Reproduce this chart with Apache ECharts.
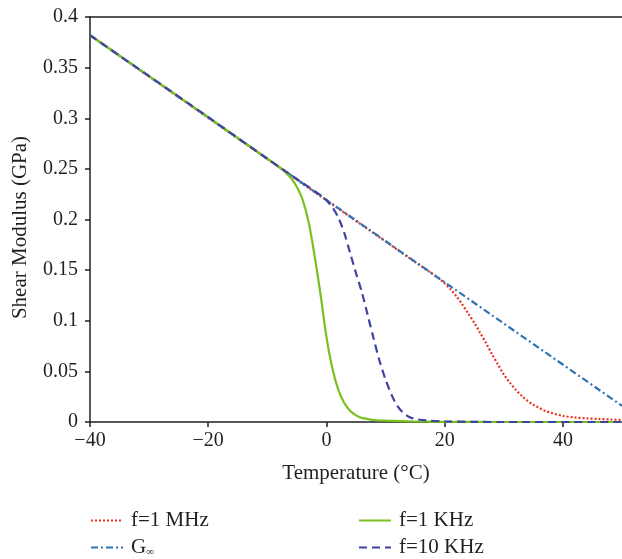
<!DOCTYPE html>
<html>
<head>
<meta charset="utf-8">
<script src="https://cdn.jsdelivr.net/npm/echarts@6/dist/echarts.min.js"></script>
<style>
html,body{margin:0;padding:0;background:#fff;}
#chart{width:622px;height:559px;}
</style>
</head>
<body>
<div id="chart"></div>
<script>
// ---- data ----
const seriesNames = ['f=1 MHz', 'G∞', 'f=1 KHz', 'f=10 KHz'];
const xTicks = [-40, -20, 0, 20, 40];

const gInfT = [-40, 50];
const gInfV = [0.382, 0.016];

const khz1T = [-40, -20, -10, -8, -7, -6, -5, -4, -3, -2, -1, 0, 1, 2, 3, 4, 5, 6, 7, 8, 10, 15, 20, 30, 50];
const khz1V = [0.382, 0.301, 0.260, 0.252, 0.247, 0.241, 0.232, 0.219, 0.197, 0.164, 0.126, 0.084, 0.053, 0.032, 0.019, 0.011, 0.0065, 0.004, 0.003, 0.002, 0.0013, 0.0005, 0.0002, 0, 0];

const khz10T = [-40, -20, -10, -2, -1, 0, 1, 2, 3, 4, 5, 6, 7, 8, 9, 10, 11, 12, 13, 14, 15, 17, 20, 25, 30, 50];
const khz10V = [0.382, 0.301, 0.260, 0.228, 0.224, 0.219, 0.212, 0.202, 0.187, 0.167, 0.147, 0.128, 0.105, 0.082, 0.060, 0.042, 0.027, 0.016, 0.009, 0.005, 0.003, 0.0015, 0.0006, 0.0001, 0, 0];

const mhz1T = [-40, 0, 15, 18, 19, 20, 21, 22, 23, 24, 25, 26, 27, 28, 29, 30, 31, 32, 33, 34, 35, 36, 37, 38, 40, 42, 44, 46, 48, 50];
const mhz1V = [0.382, 0.219, 0.158, 0.146, 0.142, 0.137, 0.131, 0.124, 0.116, 0.107, 0.098, 0.088, 0.078, 0.067, 0.057, 0.047, 0.039, 0.032, 0.026, 0.021, 0.017, 0.014, 0.011, 0.009, 0.006, 0.0045, 0.0036, 0.003, 0.0025, 0.002];

function pairs(t, v) { return t.map((x, i) => [x, v[i]]); }

const FONT = 'Liberation Serif';
const TXT = '#231f20';

const chart = echarts.init(document.getElementById('chart'), null, {renderer: 'canvas'});

const legendText = {
  fontFamily: FONT, fontSize: 21, color: TXT, lineHeight: 20, padding: [0, 0, 0, 3],
  rich: { s: { fontFamily: FONT, fontSize: 11, color: TXT, padding: [10, 0, 0, 0] } }
};
const legendFmt = function (n) { return n === 'G∞' ? 'G{s|∞}' : n; };
function mkLegend(name, left, top) {
  return { orient: 'horizontal', left: left, top: top, itemWidth: 32, itemHeight: 14,
    data: [name], formatter: legendFmt, textStyle: legendText, selectedMode: false,
    itemStyle: { opacity: 0 }, padding: 0 };
}

chart.setOption({
  animation: false,
  backgroundColor: '#fff',
  grid: { left: 90, right: 0, top: 17, bottom: 137, outerBoundsMode: 'none', containLabel: false },
  legend: [
    mkLegend('f=1 MHz', 90, 510),
    mkLegend('G∞', 90, 537),
    mkLegend('f=1 KHz', 358, 510),
    mkLegend('f=10 KHz', 358, 537)
  ],
  xAxis: [
    {
      type: 'value', min: -40, max: 50, interval: 20, position: 'bottom',
      name: 'Temperature (°C)', nameLocation: 'middle', nameGap: 41,
      nameTextStyle: { fontFamily: FONT, fontSize: 21, color: TXT },
      axisLine: { show: true, onZero: false, lineStyle: { color: TXT, width: 1.5 } },
      axisTick: { show: true, length: 5, lineStyle: { color: TXT, width: 1.5 } },
      axisLabel: { fontFamily: FONT, fontSize: 20, color: TXT, margin: 9, showMaxLabel: false,
        formatter: function (v) { return xTicks.indexOf(v) >= 0 ? String(v).replace('-', '\u2212') : ''; } },
      splitLine: { show: false }
    },
    {
      type: 'value', min: -40, max: 50, position: 'top',
      axisLine: { show: true, onZero: false, lineStyle: { color: TXT, width: 1.5 } },
      axisTick: { show: false }, axisLabel: { show: false }, splitLine: { show: false }
    }
  ],
  yAxis: {
    type: 'value', min: 0, max: 0.4, interval: 0.05,
    name: 'Shear Modulus (GPa)', nameLocation: 'middle', nameGap: 59,
    nameTextStyle: { fontFamily: FONT, fontSize: 21, color: TXT, padding: [0, 16, 0, 0] },
    axisLine: { show: true, onZero: false, lineStyle: { color: TXT, width: 1.5 } },
    axisTick: { show: true, length: 5, lineStyle: { color: TXT, width: 1.5 } },
    axisLabel: { fontFamily: FONT, fontSize: 20, color: TXT, margin: 12 },
    splitLine: { show: false }
  },
  series: [
    { name: 'f=1 MHz', type: 'line', data: pairs(mhz1T, mhz1V), showSymbol: false, symbol: 'none', smooth: 0.3,
      color: '#ec3223', lineStyle: { color: '#ec3223', width: 2.2, type: [2, 2] } },
    { name: 'G∞', type: 'line', data: pairs(gInfT, gInfV), showSymbol: false, symbol: 'none',
      color: '#2f74b6', lineStyle: { color: '#2f74b6', width: 2.2, type: [7, 3, 2, 3] } },
    { name: 'f=1 KHz', type: 'line', data: pairs(khz1T, khz1V), showSymbol: false, symbol: 'none', smooth: 0.3,
      color: '#7ac11d', lineStyle: { color: '#7ac11d', width: 2.2, type: 'solid' } },
    { name: 'f=10 KHz', type: 'line', data: pairs(khz10T, khz10V), showSymbol: false, symbol: 'none', smooth: 0.3,
      color: '#3f44a3', lineStyle: { color: '#3f44a3', width: 2.2, type: [8, 5] } }
  ]
});
</script>
</body>
</html>
